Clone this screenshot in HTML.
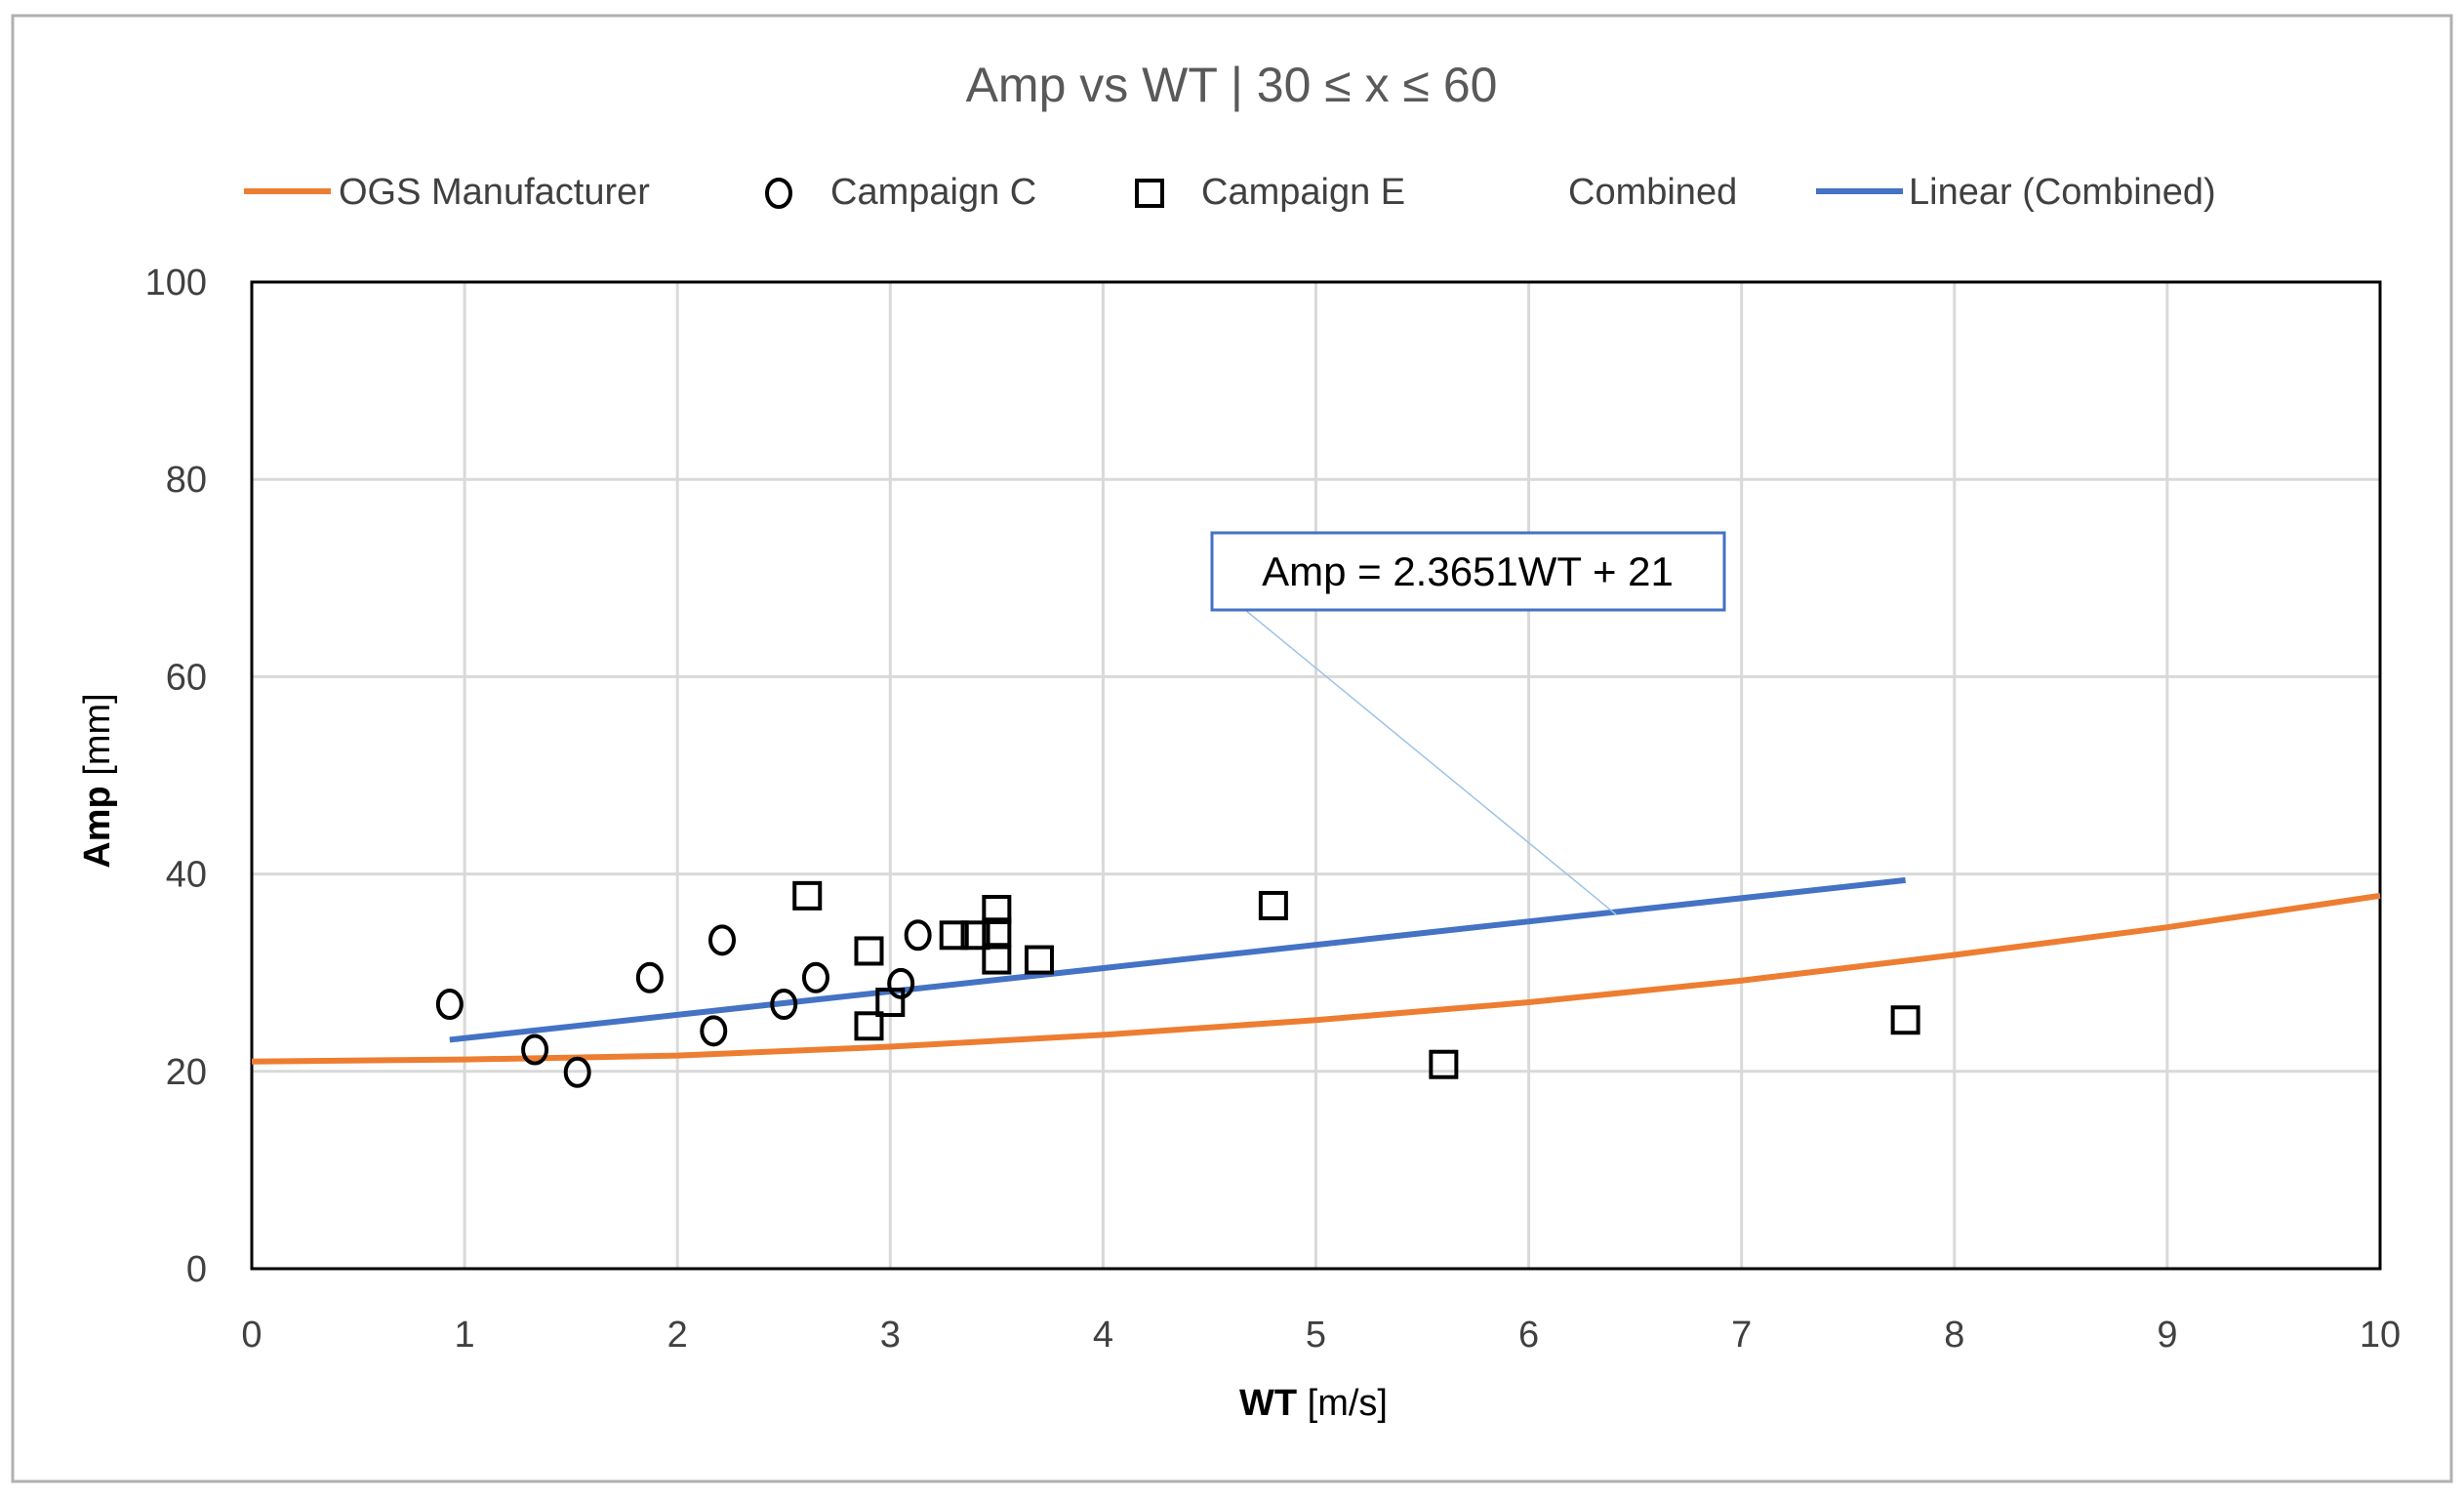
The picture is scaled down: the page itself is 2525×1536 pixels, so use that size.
<!DOCTYPE html>
<html><head><meta charset="utf-8"><style>
body{margin:0;background:#fff;}
svg{display:block;font-family:"Liberation Sans",sans-serif;}
</style></head><body>
<svg id="chart" width="2525" height="1536" viewBox="0 0 2525 1536">
<rect x="13" y="16" width="2499" height="1502" fill="#fff" stroke="#b0b0b0" stroke-width="3"/>
<text x="1262" y="104" text-anchor="middle" font-size="50" fill="#595959">Amp vs WT | 30 ≤ x ≤ 60</text>
<g id="legend" font-size="38" fill="#404040">
<g><line x1="250" y1="196" x2="339" y2="196" stroke="#ed7d31" stroke-width="6"/><text x="347" y="209">OGS Manufacturer</text></g>
<g><ellipse cx="798" cy="198" rx="12" ry="14" fill="none" stroke="#000" stroke-width="4"/><text x="851" y="209">Campaign C</text></g>
<g><rect x="1165" y="185" width="26" height="26" fill="none" stroke="#000" stroke-width="4"/><text x="1231" y="209">Campaign E</text></g>
<g><text x="1607" y="209">Combined</text></g>
<g><line x1="1861" y1="196" x2="1950" y2="196" stroke="#4472c4" stroke-width="6"/><text x="1956" y="209">Linear (Combined)</text></g>
</g>
<g id="grid"></g>
<g id="axes"></g>
<g id="series"></g>
<text x="0" y="0" transform="translate(112,800) rotate(-90)" text-anchor="middle" font-size="38" fill="#000"><tspan font-weight="bold">Amp</tspan> [mm]</text>
<text x="1346" y="1450" text-anchor="middle" font-size="38" fill="#000"><tspan font-weight="bold">WT</tspan> [m/s]</text>
</svg>
<script>
const xTicks=[0,1,2,3,4,5,6,7,8,9,10];
const yTicks=[0,20,40,60,80,100];
const campC_x=[0.93,1.33,1.53,1.87,2.17,2.21,2.5,2.65,3.05,3.13];
const campC_y=[26.8,22.2,19.9,29.5,24.1,33.3,26.8,29.5,28.9,33.8];
const campE_x=[2.61,2.9,2.9,3.0,3.3,3.4,3.5,3.5,3.5,3.7,4.8,5.6,7.77];
const campE_y=[37.8,32.2,24.6,27.0,33.8,33.8,36.4,34.1,31.3,31.3,36.8,20.7,25.2];
const ogs_x=[0,1,2,3,4,5,6,7,8,9,10];
const ogs_y=[21,21.2,21.6,22.5,23.7,25.2,27.0,29.2,31.8,34.6,37.8];
const trend_slope=2.3651, trend_int=21;
const trend_x=[0.93,7.77];
const L=258,R=2439,T=289,B=1300,XMAX=10,YMAX=100;
const sx=v=>L+(R-L)*v/XMAX, sy=v=>B-(B-T)*v/YMAX;
const NS="http://www.w3.org/2000/svg";
function mk(tag,attrs,parent){const e=document.createElementNS(NS,tag);for(const k in attrs)e.setAttribute(k,attrs[k]);parent.appendChild(e);return e;}
const grid=document.getElementById('grid'),axes=document.getElementById('axes'),series=document.getElementById('series');
xTicks.forEach(t=>{
 const g=mk('line',{x1:sx(t),x2:sx(t),y1:T,y2:B,stroke:'#d9d9d9','stroke-width':3},grid);
 
 
 const lb=mk('text',{x:sx(t),y:1380,'text-anchor':'middle','font-size':38,fill:'#404040'},axes);
 lb.textContent=t;
 
 
});
yTicks.forEach(t=>{
 const g=mk('line',{x1:L,x2:R,y1:sy(t),y2:sy(t),stroke:'#d9d9d9','stroke-width':3},grid);
 
 
 const lb=mk('text',{x:212,y:sy(t)+13,'text-anchor':'end','font-size':38,fill:'#404040'},axes);
 lb.textContent=t;
 
 
});
const frame=mk('rect',{x:L,y:T,width:R-L,height:B-T,fill:'none',stroke:'#000','stroke-width':3},axes);


// OGS curve
let d=ogs_x.map((x,i)=>(i?'L':'M')+sx(x)+' '+sy(ogs_y[i])).join(' ');
const ogs=mk('path',{d:d,fill:'none',stroke:'#ed7d31','stroke-width':6,'stroke-linejoin':'round'},series);


// trendline
const ty=trend_x.map(x=>trend_slope*x+trend_int);
const tl=mk('line',{x1:sx(trend_x[0]),y1:sy(ty[0]),x2:sx(trend_x[1]),y2:sy(ty[1]),stroke:'#4472c4','stroke-width':6},series);


campC_x.forEach((x,i)=>{
 const c=mk('ellipse',{cx:sx(x),cy:sy(campC_y[i]),rx:12,ry:14,fill:'none',stroke:'#000','stroke-width':4},series);
 
 
});
campE_x.forEach((x,i)=>{
 const r=mk('rect',{x:sx(x)-13,y:sy(campE_y[i])-13,width:26,height:26,fill:'none',stroke:'#000','stroke-width':4},series);
 
 
});
// equation label
const ld=mk('line',{x1:1276,y1:625,x2:1656,y2:937,stroke:'#9dc3e6','stroke-width':1.5},series);


const box=mk('rect',{x:1242,y:546,width:525,height:79,fill:'#fff',stroke:'#4472c4','stroke-width':3},series);


const eq=mk('text',{x:1504,y:600,'text-anchor':'middle','font-size':42,fill:'#000','xml:space':'preserve'},series);
eq.textContent='Amp  =  2.3651WT + 21';


</script>
</body></html>
